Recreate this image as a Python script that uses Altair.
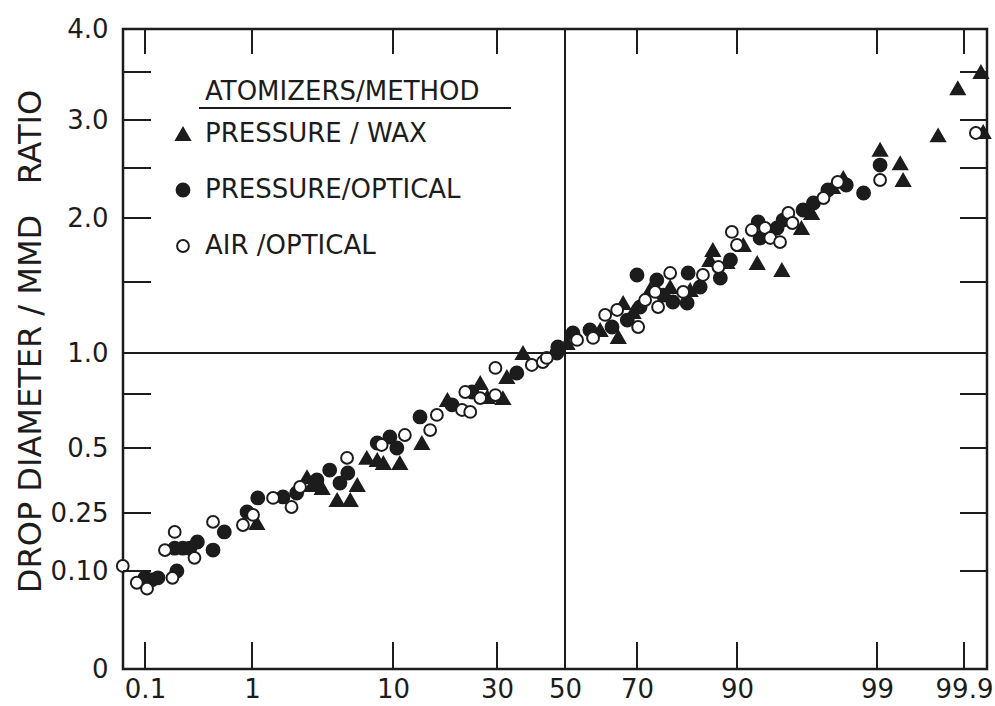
import json
from statistics import NormalDist

import altair as alt
import pandas as pd

# ---------------- data (cumulative volume %, drop diameter / MMD ratio) ----------------
wax_pct = [1.1, 2.75, 3.0, 3.54, 4.5, 5.5, 6.1, 7.0, 8.1, 8.8, 10.9, 14.2, 18.8, 25.9, 27.6,
           31.6, 32.7, 37.3, 50.6, 60.1, 65.1, 66.4, 69.0, 73.3, 78.1, 82.3, 85.9, 86.4, 88.6,
           90.8, 92.4, 94.7, 96.1, 96.7, 97.7, 98.1, 99.07, 99.43, 99.47, 99.79, 99.88, 99.94,
           99.944]
wax_ratio = [0.224, 0.388, 0.358, 0.346, 0.30, 0.30, 0.358, 0.462, 0.454, 0.442, 0.442, 0.523,
             0.722, 0.817, 0.736, 0.731, 0.854, 1.0, 1.07, 1.162, 1.113, 1.352, 1.289, 1.444,
             1.465, 1.444, 1.672, 1.75, 1.656, 1.789, 1.648, 1.594, 1.922, 2.05, 2.31, 2.40,
             2.69, 2.55, 2.38, 2.84, 3.33, 3.5, 2.875]

popt_pct = [0.10, 0.118, 0.136, 0.21, 0.20, 0.24, 0.33, 0.28, 0.46, 0.58, 0.91, 1.12, 1.8, 2.3,
            3.25, 4.0, 4.7, 5.3, 8.1, 9.6, 10.5, 13.9, 19.7, 24.0, 35.5, 47.5, 47.8, 52.3, 57.2,
            63.4, 67.5, 70.0, 70.8, 75.0, 76.5, 78.7, 81.7, 81.9, 84.2, 87.6, 89.1, 92.5, 92.7,
            94.3, 94.8, 96.2, 96.8, 97.5, 98.2, 98.7, 99.07]
popt_ratio = [0.093, 0.091, 0.093, 0.10, 0.159, 0.159, 0.175, 0.159, 0.154, 0.201, 0.254, 0.308,
              0.312, 0.327, 0.377, 0.415, 0.365, 0.404, 0.523, 0.551, 0.50, 0.644, 0.70, 0.762,
              0.878, 1.0, 1.042, 1.141, 1.162, 1.183, 1.232, 1.555, 1.324, 1.516, 1.408, 1.359,
              1.352, 1.570, 1.465, 1.531, 1.672, 1.969, 1.844, 1.922, 1.984, 2.08, 2.15, 2.28,
              2.33, 2.25, 2.53]

air_pct = [0.058, 0.082, 0.105, 0.19, 0.16, 0.20, 0.31, 0.46, 0.84, 1.02, 1.5, 2.1, 2.44, 5.24,
           8.6, 11.6, 15.6, 16.8, 21.8, 23.6, 22.5, 25.9, 29.6, 29.6, 39.9, 43.2, 44.4, 53.5,
           58.1, 61.5, 64.8, 70.3, 72.1, 78.1, 74.6, 75.3, 80.9, 84.7, 87.3, 90.0, 89.3, 91.8,
           93.2, 93.7, 94.55, 95.2, 95.5, 97.3, 97.9, 99.07, 99.93]
air_ratio = [0.113, 0.088, 0.082, 0.093, 0.154, 0.201, 0.134, 0.227, 0.219, 0.245, 0.308, 0.273,
             0.35, 0.462, 0.514, 0.56, 0.583, 0.653, 0.676, 0.667, 0.762, 0.731, 0.745, 0.909,
             0.927, 0.945, 0.97, 1.092, 1.106, 1.268, 1.303, 1.183, 1.373, 1.57, 1.43, 1.324,
             1.43, 1.555, 1.617, 1.789, 1.891, 1.906, 1.922, 1.844, 1.812, 2.05, 1.961, 2.2,
             2.36, 2.38, 2.865]

methods = ["PRESSURE / WAX", "PRESSURE/OPTICAL", "AIR /OPTICAL"]

x_tick_pct = [0.1, 1, 10, 30, 50, 70, 90, 99, 99.9]
x_tick_labels = ["0.1", "1", "10", "30", "50", "70", "90", "99", "99.9"]
y_tick_vals = [0, 0.10, 0.25, 0.5, 1.0, 2.0, 3.0, 4.0]
y_tick_labels = ["0", "0.10", "0.25", "0.5", "1.0", "2.0", "3.0", "4.0"]
y_minor_ticks = [0.10, 0.25, 0.5, 0.75, 1.5, 2.0, 2.5, 3.0, 3.5]

# ---------------- layout / style ----------------
W, H = 864, 640
ink = "#1c1c1c"
font = "DejaVu Sans"

nd = NormalDist()
probit = lambda p: round(nd.inv_cdf(p / 100.0), 6)

zt = [probit(p) for p in x_tick_pct]
# probability paper graduation (piecewise, as printed on the chart paper)
x_dom = [-3.247] + zt + [3.292]
x_rng = [0, 22, 129, 270, 374, 442, 514, 614, 754, 841, 864]
xs = alt.Scale(domain=x_dom, range=x_rng, zero=False, nice=False)

y_dom = [0, 0.1, 0.25, 0.5, 0.75, 1.0, 1.5, 2.0, 2.5, 3.0, 3.5, 4.0]
y_rng = [640, 542, 484, 419, 365, 324, 253, 189, 139, 91, 43, 0]
ys = alt.Scale(domain=y_dom, range=y_rng, zero=False, nice=False)

rows = []
for m, P, R in [(methods[1], popt_pct, popt_ratio),
                (methods[0], wax_pct, wax_ratio),
                (methods[2], air_pct, air_ratio)]:
    for p, r in zip(P, R):
        rows.append({"method": m, "z": probit(p), "ratio": r})
df = pd.DataFrame(rows)

x_label_expr = f"{json.dumps(x_tick_labels)}[indexof({json.dumps(zt)}, datum.value)]"
y_label_expr = f"{json.dumps(y_tick_labels)}[indexof({json.dumps(y_tick_vals)}, datum.value)]"

ytitle = "DROP  DIAMETER / MMD\u00a0\u00a0\u00a0RATIO"

xa = alt.Axis(
    values=zt, labelExpr=x_label_expr, ticks=False, domain=False, grid=False,
    labelFontSize=26, labelFont=font, labelColor=ink, labelPadding=7,
    labelFlush=False, labelOverlap=False, labelBound=False, title=None)
ya = alt.Axis(
    values=y_tick_vals, labelExpr=y_label_expr, ticks=False, domain=False, grid=False,
    labelFontSize=26, labelFont=font, labelColor=ink, labelPadding=15,
    labelFlush=False, labelOverlap=False, labelBound=False,
    title=ytitle, titleFont=font, titleFontSize=32, titleFontWeight="normal",
    titleColor=ink, titleX=-93, titleY=312, titleAngle=270, titleAlign="center",
    titleBaseline="middle")

legend = alt.Legend(
    title=None, orient="none", legendX=47, legendY=92, padding=0,
    labelFontSize=26, labelFont=font, labelColor=ink, labelOffset=9, labelLimit=0,
    rowPadding=30, symbolStrokeWidth=2,
)

points = alt.Chart(df).mark_point(filled=False, strokeWidth=2, opacity=1).encode(
    x=alt.X("z:Q", scale=xs, axis=xa),
    y=alt.Y("ratio:Q", scale=ys, axis=ya),
    shape=alt.Shape("method:N", scale=alt.Scale(domain=methods, range=["triangle-up", "circle", "circle"]), legend=legend),
    fill=alt.Fill("method:N", scale=alt.Scale(domain=methods, range=[ink, ink, "white"]), legend=legend),
    stroke=alt.Stroke("method:N", scale=alt.Scale(domain=methods, range=[ink, ink, ink]), legend=legend),
    size=alt.Size("method:N", scale=alt.Scale(domain=methods, range=[190, 140, 130]), legend=legend),
)

xt_df = pd.DataFrame({"z": [z for z, p in zip(zt, x_tick_pct) if p != 50]})
yt_df = pd.DataFrame({"ratio": y_minor_ticks})

X = alt.X("z:Q", scale=xs, axis=xa)
Y = alt.Y("ratio:Q", scale=ys, axis=ya)

bottom_ticks = alt.Chart(xt_df).mark_rule(stroke=ink, strokeWidth=2).encode(
    x=X, y=alt.value(H), y2=alt.value(H - 27))
top_ticks = alt.Chart(xt_df).mark_rule(stroke=ink, strokeWidth=2).encode(
    x=X, y=alt.value(0), y2=alt.value(25))
left_ticks = alt.Chart(yt_df).mark_rule(stroke=ink, strokeWidth=2).encode(
    y=Y, x=alt.value(0), x2=alt.value(28))
right_ticks = alt.Chart(yt_df).mark_rule(stroke=ink, strokeWidth=2).encode(
    y=Y, x=alt.value(W), x2=alt.value(W - 27))

vline = alt.Chart(pd.DataFrame({"z": [probit(50)]})).mark_rule(stroke=ink, strokeWidth=2).encode(x=X)
hline = alt.Chart(pd.DataFrame({"ratio": [1.0]})).mark_rule(stroke=ink, strokeWidth=2).encode(y=Y)

leg_title = alt.Chart(pd.DataFrame({"t": ["ATOMIZERS/METHOD"]})).mark_text(
    align="left", baseline="middle", fontSize=26, font=font, color=ink).encode(
    x=alt.value(82), y=alt.value(63), text="t:N")
leg_rule = alt.Chart(pd.DataFrame({"t": ["u"]})).mark_rule(stroke=ink, strokeWidth=2).encode(
    x=alt.value(76), x2=alt.value(388), y=alt.value(79))

chart = alt.layer(
    points, vline, hline, bottom_ticks, top_ticks, left_ticks, right_ticks, leg_title, leg_rule
).properties(
    width=W, height=H,
    autosize=alt.AutoSizeParams(type="none"),
    padding={"left": 123, "top": 29, "right": 8, "bottom": 37},
    background="white",
).configure_view(stroke=ink, strokeWidth=2.5)

chart.save("out.html", embed_options={"renderer": "svg", "actions": False})
